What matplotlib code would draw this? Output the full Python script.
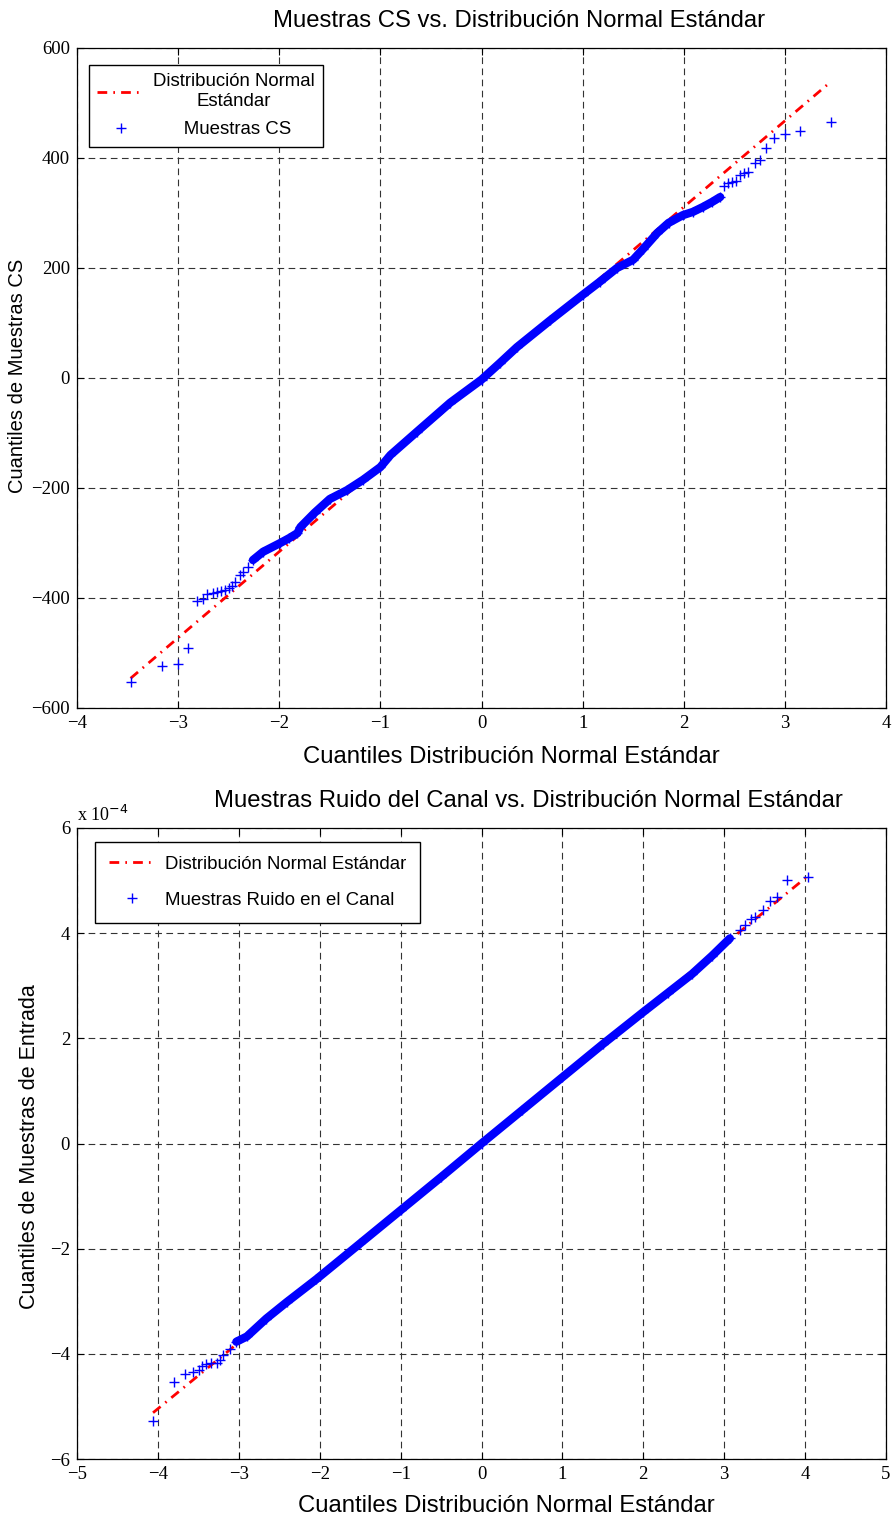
import matplotlib
matplotlib.use('Agg')
import matplotlib.pyplot as plt
from matplotlib.lines import Line2D

# ---------------- data: top panel (CS samples) ----------------
cs_ref_x = [-3.47, 3.45]
cs_ref_y = [-546, 538]
cs_x = [-3.47, -3.16, -3.00, -2.90, -2.81, -2.75, -2.71, -2.66, -2.62, -2.58, -2.54, -2.50, -2.47, -2.44, -2.39, -2.36, -2.31,
        -2.26, -2.16, -1.99, -1.90, -1.82, -1.79, -1.65, -1.50, -1.33, -1.17, -1.00, -0.90, -0.64, -0.31, 0.00, 0.18, 0.35,
        0.68, 1.00, 1.17, 1.34, 1.50, 1.60, 1.74, 1.85, 1.99, 2.09, 2.19, 2.28, 2.36,
        2.40, 2.44, 2.48, 2.52, 2.56, 2.60, 2.64, 2.70, 2.75, 2.81, 2.89, 3.00, 3.15, 3.46]
cs_y = [-553, -524, -520, -491, -405, -402, -393, -391, -389, -387, -385, -382, -378, -371, -358, -353, -343,
        -331, -316, -300, -291, -282, -271, -245, -220, -204, -185, -162, -140, -98, -45, -3, 27, 56,
        105, 151, 175, 200, 215, 235, 264, 282, 296, 302, 311, 320, 329,
        350, 354, 356, 358, 370, 372, 375, 391, 397, 418, 436, 444, 449, 465]
cs_dense = (17, 47)          # index range of the dense band
cs_xticks = [-4, -3, -2, -1, 0, 1, 2, 3, 4]
cs_yticks = [-600, -400, -200, 0, 200, 400, 600]

# ---------------- data: bottom panel (channel noise, units of 1e-4) ----------------
nz_ref_x = [-4.06, 4.02]
nz_ref_y = [-5.12, 5.07]
nz_x = [-4.06, -3.80, -3.66, -3.57, -3.49, -3.45, -3.40, -3.34, -3.27, -3.23, -3.19, -3.11,
        -3.03, -2.90, -2.66, -2.41, -2.04, -1.50, -1.00, -0.50, 0.00, 0.50, 1.00, 1.50, 2.00, 2.30, 2.60, 2.85, 3.07,
        3.20, 3.26, 3.33, 3.38, 3.48, 3.57, 3.65, 3.78, 4.04]
nz_y = [-5.27, -4.53, -4.39, -4.35, -4.30, -4.23, -4.19, -4.18, -4.17, -4.12, -4.02, -3.90,
        -3.77, -3.67, -3.33, -3.02, -2.58, -1.90, -1.27, -0.64, 0.00, 0.63, 1.26, 1.89, 2.50, 2.86, 3.22, 3.57, 3.90,
        4.06, 4.16, 4.26, 4.30, 4.44, 4.62, 4.68, 5.02, 5.07]
nz_dense = (12, 29)
nz_xticks = [-5, -4, -3, -2, -1, 0, 1, 2, 3, 4, 5]
nz_yticks = [-6, -4, -2, 0, 2, 4, 6]

SANS = 'Liberation Sans'
SERIF = 'Liberation Serif'
W, H = 893, 1521
DASHDOT = (3.5, 2.2, 0.6, 2.2)

fig = plt.figure(figsize=(W / 100, H / 100), dpi=100)


def px_axes(l, t, r, b):
    return fig.add_axes([l / W, 1 - b / H, (r - l) / W, (b - t) / H])


def style(ax, xt, yt):
    ax.set_xticks(xt)
    ax.set_yticks(yt)
    ax.set_xlim(xt[0], xt[-1])
    ax.set_ylim(yt[0], yt[-1])
    ax.grid(True, color='0.2', linestyle=(0, (6, 4)), linewidth=0.8)
    ax.tick_params(direction='in', length=5, width=0.8, top=True, right=True,
                   labelsize=13.5, pad=5)
    for lab in ax.get_xticklabels() + ax.get_yticklabels():
        lab.set_fontfamily(SERIF)
    for s in ax.spines.values():
        s.set_linewidth(0.9)
        s.set_color('black')


def draw(ax, rx, ry, x, y, dense, lw_band):
    ax.plot(rx, ry, color='red', linewidth=2.0, dashes=DASHDOT)
    a, b = dense
    ax.plot(x[a:b], y[a:b], color='blue', linewidth=lw_band, solid_capstyle='round',
            solid_joinstyle='round')
    ax.plot(x, y, linestyle='none', marker='+', color='blue', markersize=7, markeredgewidth=1.0)


# ---------- top ----------
ax1 = px_axes(77, 48, 886, 708)
style(ax1, cs_xticks, cs_yticks)
draw(ax1, cs_ref_x, cs_ref_y, cs_x, cs_y, cs_dense, 6.0)
h1 = [Line2D([], [], color='red', linewidth=2.0, dashes=DASHDOT),
      Line2D([], [], color='blue', linestyle='none', marker='+', markersize=7)]
leg1 = ax1.legend(h1, ['Distribución Normal\nEstándar', '      Muestras CS'],
                  loc='upper left', bbox_to_anchor=(89 / W, 1 - 65 / H), bbox_transform=fig.transFigure,
                  borderaxespad=0, fancybox=False, framealpha=1, edgecolor='black',
                  prop={'family': SANS, 'size': 13.4}, handlelength=2.5, labelspacing=0.6,
                  borderpad=0.45, handletextpad=0.5)
leg1.get_frame().set_linewidth(1.0)
leg1.get_texts()[0].set_multialignment('center')
fig.text(519 / W, 1 - 21 / H, 'Muestras CS vs. Distribución Normal Estándar', family=SANS, fontsize=17.2,
         ha='center', va='center')
fig.text(511 / W, 1 - 757 / H, 'Cuantiles Distribución Normal Estándar', family=SANS, fontsize=17.2,
         ha='center', va='center')
fig.text(18 / W, 1 - 376 / H, 'Cuantiles de Muestras CS', family=SANS, fontsize=14.5,
         ha='center', va='center', rotation=90)

# ---------- bottom ----------
ax2 = px_axes(77, 828, 886, 1459)
style(ax2, nz_xticks, nz_yticks)
draw(ax2, nz_ref_x, nz_ref_y, nz_x, nz_y, nz_dense, 6.0)
h2 = [Line2D([], [], color='red', linewidth=2.0, dashes=DASHDOT),
      Line2D([], [], color='blue', linestyle='none', marker='+', markersize=7)]
leg2 = ax2.legend(h2, ['Distribución Normal Estándar', 'Muestras Ruido en el Canal'],
                  loc='upper left', bbox_to_anchor=(95 / W, 1 - 842 / H), bbox_transform=fig.transFigure,
                  borderaxespad=0, fancybox=False, framealpha=1, edgecolor='black',
                  prop={'family': SANS, 'size': 13.4}, handlelength=2.5, labelspacing=1.0,
                  borderpad=0.75, handletextpad=0.5)
leg2.get_frame().set_linewidth(1.0)
ax2.text(0.0, 1.005, r'x 10$^{-4}$', transform=ax2.transAxes, family=SERIF, fontsize=13,
         ha='left', va='bottom')
fig.text(528 / W, 1 - 801 / H, 'Muestras Ruido del Canal vs. Distribución Normal Estándar', family=SANS,
         fontsize=17.2, ha='center', va='center')
fig.text(506 / W, 1 - 1506 / H, 'Cuantiles Distribución Normal Estándar', family=SANS, fontsize=17.2,
         ha='center', va='center')
fig.text(30 / W, 1 - 1147 / H, 'Cuantiles de Muestras de Entrada', family=SANS, fontsize=15.5,
         ha='center', va='center', rotation=90)

fig.savefig('out.png', dpi=100)
